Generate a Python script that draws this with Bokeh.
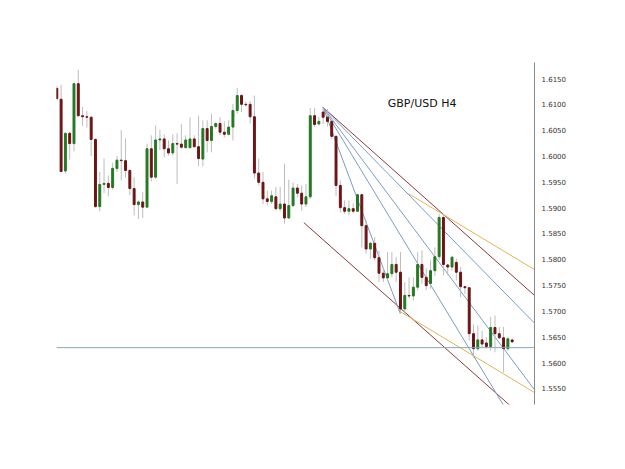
from bokeh.plotting import figure
from bokeh.models import Range1d, FixedTicker, NumeralTickFormatter, Span, Label, ColumnDataSource
from bokeh.embed import file_html
from bokeh.resources import INLINE

title_text = "GBP/USD H4"

opens = [1.6131, 1.6110, 1.5971, 1.6044, 1.6024, 1.6140, 1.6078, 1.6076, 1.6075, 1.6032,
         1.5902, 1.5945, 1.5947, 1.5939, 1.5976, 1.5992, 1.5991, 1.5972, 1.5937, 1.5906,
         1.5911, 1.5901, 1.6014, 1.5959, 1.6031, 1.6033, 1.6014, 1.6006, 1.6024, 1.6023,
         1.6016, 1.6016, 1.6033, 1.6018, 1.5994, 1.6053, 1.6030, 1.6057, 1.6063, 1.6046,
         1.6042, 1.6056, 1.6088, 1.6117, 1.6100, 1.6100, 1.6076, 1.5967, 1.5949, 1.5917,
         1.5912, 1.5921, 1.5898, 1.5907, 1.5880, 1.5904, 1.5938, 1.5928, 1.5907, 1.5921,
         1.6078, 1.6062, 1.6085, 1.6075, 1.6067, 1.6038, 1.5943, 1.5900, 1.5893, 1.5898,
         1.5893, 1.5925, 1.5865, 1.5820, 1.5831, 1.5803, 1.5773, 1.5764, 1.5772, 1.5790,
         1.5775, 1.5704, 1.5730, 1.5729, 1.5746, 1.5790, 1.5765, 1.5753, 1.5778, 1.5805,
         1.5881, 1.5789, 1.5785, 1.5794, 1.5775, 1.5747, 1.5745, 1.5656, 1.5627, 1.5644,
         1.5638, 1.5631, 1.5668, 1.5656, 1.5648, 1.5627, 1.5644]
highs = [1.6136, 1.6138, 1.6045, 1.6047, 1.6142, 1.6167, 1.6095, 1.6087, 1.6077, 1.6034,
         1.5969, 1.5995, 1.5962, 1.5987, 1.6000, 1.6050, 1.6034, 1.5974, 1.5959, 1.5914,
         1.5930, 1.6024, 1.6040, 1.6059, 1.6051, 1.6042, 1.6030, 1.6042, 1.6044, 1.6062,
         1.6040, 1.6075, 1.6040, 1.6078, 1.6069, 1.6069, 1.6082, 1.6065, 1.6075, 1.6067,
         1.6069, 1.6101, 1.6132, 1.6120, 1.6105, 1.6106, 1.6117, 1.5995, 1.5969, 1.5933,
         1.5933, 1.5940, 1.5940, 1.5985, 1.5954, 1.5949, 1.5946, 1.5943, 1.5946, 1.6093,
         1.6093, 1.6076, 1.6094, 1.6091, 1.6069, 1.6040, 1.5953, 1.5914, 1.5914, 1.5908,
         1.5927, 1.5927, 1.5875, 1.5834, 1.5843, 1.5817, 1.5785, 1.5814, 1.5814, 1.5804,
         1.5814, 1.5756, 1.5765, 1.5765, 1.5814, 1.5817, 1.5782, 1.5798, 1.5823, 1.5888,
         1.5888, 1.5791, 1.5807, 1.5801, 1.5785, 1.5749, 1.5746, 1.5674, 1.5672, 1.5662,
         1.5649, 1.5688, 1.5691, 1.5669, 1.5669, 1.5649, 1.5645]
lows = [1.6109, 1.5969, 1.5966, 1.5993, 1.6009, 1.6076, 1.6058, 1.6055, 1.6000, 1.5900,
        1.5893, 1.5928, 1.5922, 1.5935, 1.5969, 1.5953, 1.5958, 1.5924, 1.5885, 1.5878,
        1.5880, 1.5900, 1.5951, 1.5956, 1.6011, 1.5998, 1.6001, 1.6001, 1.5946, 1.6014,
        1.6016, 1.6016, 1.6016, 1.5980, 1.5980, 1.6007, 1.6007, 1.6053, 1.6040, 1.6036,
        1.6040, 1.6030, 1.6082, 1.6085, 1.6096, 1.6063, 1.5956, 1.5943, 1.5907, 1.5904,
        1.5907, 1.5894, 1.5893, 1.5869, 1.5878, 1.5901, 1.5920, 1.5894, 1.5901, 1.5917,
        1.6056, 1.6059, 1.6062, 1.6057, 1.6033, 1.5923, 1.5891, 1.5888, 1.5885, 1.5889,
        1.5891, 1.5823, 1.5811, 1.5801, 1.5798, 1.5756, 1.5756, 1.5759, 1.5765, 1.5756,
        1.5694, 1.5694, 1.5724, 1.5720, 1.5740, 1.5753, 1.5740, 1.5743, 1.5768, 1.5798,
        1.5769, 1.5769, 1.5778, 1.5759, 1.5727, 1.5733, 1.5643, 1.5610, 1.5623, 1.5630,
        1.5627, 1.5623, 1.5620, 1.5646, 1.5581, 1.5623, 1.5639]
closes = [1.6111, 1.5970, 1.6044, 1.6024, 1.6140, 1.6078, 1.6076, 1.6075, 1.6032, 1.5902,
          1.5945, 1.5947, 1.5939, 1.5976, 1.5992, 1.5991, 1.5972, 1.5937, 1.5906, 1.5911,
          1.5901, 1.6014, 1.5959, 1.6031, 1.6033, 1.6014, 1.6006, 1.6024, 1.6023, 1.6017,
          1.6031, 1.6033, 1.6018, 1.5995, 1.6053, 1.6030, 1.6057, 1.6063, 1.6046, 1.6042,
          1.6056, 1.6088, 1.6117, 1.6100, 1.6099, 1.6076, 1.5967, 1.5949, 1.5917, 1.5912,
          1.5923, 1.5898, 1.5907, 1.5880, 1.5904, 1.5938, 1.5928, 1.5907, 1.5921, 1.6078,
          1.6061, 1.6067, 1.6075, 1.6067, 1.6038, 1.5943, 1.5900, 1.5893, 1.5898, 1.5893,
          1.5925, 1.5865, 1.5820, 1.5831, 1.5803, 1.5773, 1.5764, 1.5772, 1.5790, 1.5775,
          1.5704, 1.5730, 1.5729, 1.5746, 1.5790, 1.5765, 1.5749, 1.5778, 1.5805, 1.5881,
          1.5790, 1.5785, 1.5804, 1.5775, 1.5747, 1.5745, 1.5656, 1.5627, 1.5644, 1.5636,
          1.5631, 1.5668, 1.5656, 1.5648, 1.5627, 1.5646, 1.5640]

price_ticks = [1.5550, 1.5600, 1.5650, 1.5700, 1.5750, 1.5800, 1.5850,
               1.5900, 1.5950, 1.6000, 1.6050, 1.6100, 1.6150]

support_level = 1.5629

# Fibonacci fan: pivot high -> swing low, retracement levels
fan_pivot = (63, 1.6094)
fan_swing = (81, 1.5694)
fan_levels = [0.0, 0.382, 0.5, 0.618]

# channel lines (start bar, start price, end bar, end price)
maroon_x0 = [63, 58.5]
maroon_y0 = [1.6094, 1.5871]
maroon_x1 = [112.2, 112.2]
maroon_y1 = [1.5730, 1.5475]
yellow_x0 = [82.9, 80.5]
yellow_y0 = [1.5927, 1.5701]
yellow_x1 = [112.2, 112.2]
yellow_y1 = [1.5780, 1.5542]

n = len(opens)
idx = list(range(1, n + 1))
up = [c >= o for o, c in zip(opens, closes)]
colors = ["#237823" if u else "#6d1414" for u in up]
tops = [max(o, c) for o, c in zip(opens, closes)]
bots = [min(o, c) for o, c in zip(opens, closes)]

src = ColumnDataSource(dict(x=idx, top=tops, bottom=bots, high=highs, low=lows, color=colors))

X0, X1 = 0.93, 112.2
p = figure(width=625, height=469, x_range=Range1d(X0, X1), y_range=Range1d(1.55189, 1.61810),
           output_backend="svg", toolbar_location=None, x_axis_location=None,
           y_axis_location="right",
           min_border_left=56, min_border_right=91, min_border_top=62, min_border_bottom=65)
p.outline_line_color = None
p.grid.visible = False
p.background_fill_color = "white"
p.border_fill_color = "white"

yax = p.yaxis[0]
yax.ticker = FixedTicker(ticks=price_ticks)
yax.formatter = NumeralTickFormatter(format="0.0000")
yax.major_tick_out = 0
yax.major_tick_in = 0
yax.minor_tick_out = 0
yax.minor_tick_in = 0
yax.major_label_standoff = 7
yax.axis_line_color = "#8a8a8a"
yax.major_label_text_font = "DejaVu Sans"
yax.major_label_text_font_size = "7px"
yax.major_label_text_color = "#333333"

# support line
p.add_layout(Span(location=support_level, dimension="width", line_color="#86a9b8", line_width=1))

# channels
p.segment(x0=maroon_x0, y0=maroon_y0, x1=maroon_x1, y1=maroon_y1, line_color="#8b3a3a", line_width=1)
p.segment(x0=yellow_x0, y0=yellow_y0, x1=yellow_x1, y1=yellow_y1, line_color="#e2b453", line_width=1)

# fan lines: base trend line from pivot to swing, retracement rays extended to the right edge
fx0, fy0, fx1, fy1 = [], [], [], []
for lv in fan_levels:
    target = fan_swing[1] + (fan_pivot[1] - fan_swing[1]) * lv
    slope = (target - fan_pivot[1]) / (fan_swing[0] - fan_pivot[0])
    fx0.append(fan_pivot[0]); fy0.append(fan_pivot[1])
    if lv == 0.0:
        fx1.append(fan_swing[0]); fy1.append(fan_swing[1])
    else:
        fx1.append(X1); fy1.append(fan_pivot[1] + slope * (X1 - fan_pivot[0]))
p.segment(x0=fx0, y0=fy0, x1=fx1, y1=fy1, line_color="#7b9cc2", line_width=1)

# candles
p.segment(x0="x", y0="low", x1="x", y1="high", source=src, line_color="#bdbdbd", line_width=1)
p.vbar(x="x", top="top", bottom="bottom", width=0.45, source=src,
       fill_color="color", line_color="color", line_width=1)

p.add_layout(Label(x=78.05, y=1.6102, text=title_text, text_font="DejaVu Sans",
                   text_font_size="11px", text_color="#111111", text_baseline="middle"))

open("out.html", "w").write(file_html(p, INLINE))
